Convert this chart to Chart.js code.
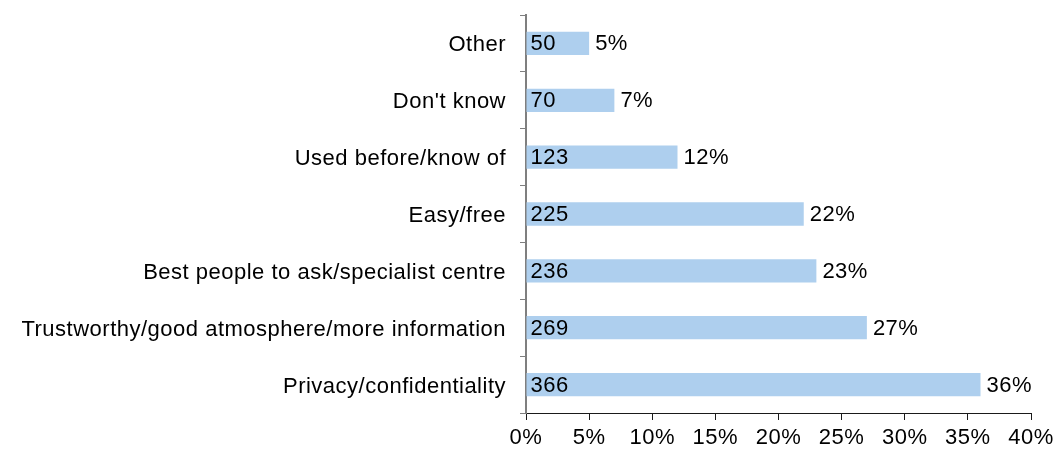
<!DOCTYPE html>
<html>
<head>
<meta charset="utf-8">
<script src="https://cdn.jsdelivr.net/npm/chart.js@4"></script>
<style>
  html, body { margin: 0; padding: 0; background: #fff; }
  #wrap { width: 1057px; height: 457px; }
</style>
</head>
<body>
<div id="wrap"><canvas id="reasons"></canvas></div>
<script>
const categories = [
  'Other',
  "Don't know",
  'Used before/know of',
  'Easy/free',
  'Best people to ask/specialist centre',
  'Trustworthy/good atmosphere/more information',
  'Privacy/confidentiality'
];
const counts = [50, 70, 123, 225, 236, 269, 366];
const percents = [5, 7, 12, 22, 23, 27, 36];
const xTicks = [0, 5, 10, 15, 20, 25, 30, 35, 40];

const FONT = { family: '"Liberation Sans", Arial, sans-serif', size: 22 };
const Y_AXIS = '#7f7f7f';
const X_AXIS = '#1a1a1a';

// count inside the start of each bar, percentage just past its end
const barLabels = {
  id: 'barLabels',
  afterDatasetsDraw(chart) {
    const ctx = chart.ctx;
    const meta = chart.getDatasetMeta(0);
    ctx.save();
    ctx.font = `${FONT.size}px ${FONT.family}`;
    ctx.fillStyle = '#000';
    ctx.textBaseline = 'middle';
    ctx.textAlign = 'left';
    meta.data.forEach((bar, i) => {
      ctx.fillText(String(counts[i]), bar.base + 4, bar.y + 1);
      ctx.fillText(percents[i] + '%', bar.x + 6, bar.y + 1);
    });
    ctx.restore();
  }
};

// slightly wider text spacing for all labels
const spacing = {
  id: 'spacing',
  beforeDraw(chart) { chart.ctx.letterSpacing = '0.5px'; }
};

new Chart(document.getElementById('reasons'), {
  type: 'bar',
  data: {
    labels: categories,
    datasets: [{
      data: percents,
      backgroundColor: '#aecfee',
      borderWidth: 0,
      barPercentage: 0.41,
      categoryPercentage: 1
    }]
  },
  options: {
    indexAxis: 'y',
    responsive: true,
    maintainAspectRatio: false,
    animation: false,
    layout: { padding: { top: 15, right: 26, left: 0, bottom: 0 } },
    plugins: { legend: { display: false }, tooltip: { enabled: false } },
    scales: {
      x: {
        min: 0,
        max: 40,
        afterBuildTicks(scale) { scale.ticks = xTicks.map(v => ({ value: v })); },
        afterFit(scale) { scale.height = 44; scale.paddingLeft = 0; scale.paddingRight = 0; },
        grid: { drawOnChartArea: false, tickLength: 7, color: X_AXIS, tickColor: X_AXIS },
        border: { color: X_AXIS, width: 1 },
        ticks: { color: '#000', font: FONT, padding: 5, maxRotation: 0, callback: v => v + '%' }
      },
      y: {
        afterFit(scale) { scale.width = 526; scale.paddingTop = 0; scale.paddingBottom = 0; },
        grid: { offset: true, drawOnChartArea: false, tickLength: 6, color: Y_AXIS, tickColor: Y_AXIS },
        border: { color: Y_AXIS, width: 2 },
        ticks: { color: '#000', font: FONT, padding: 14, labelOffset: 2 }
      }
    }
  },
  plugins: [spacing, barLabels]
});
</script>
</body>
</html>
